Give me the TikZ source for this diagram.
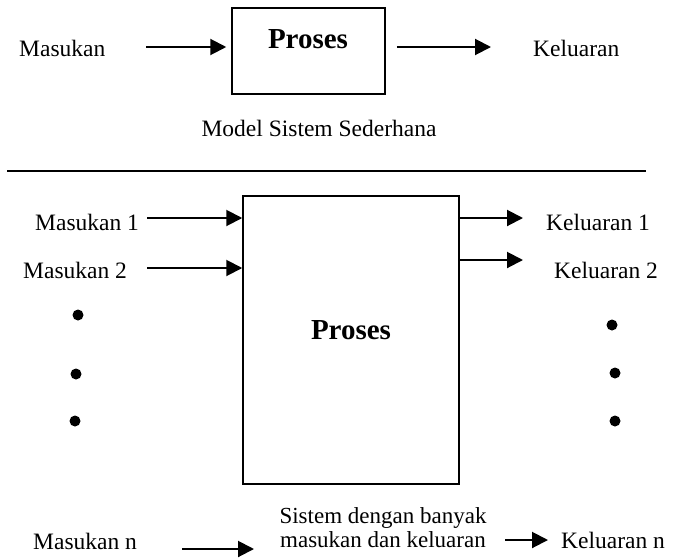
\documentclass[tikz,border=0pt]{standalone}
\usepackage{fontspec}
\setmainfont{Liberation Serif}
\usetikzlibrary{arrows.meta}
\begin{document}
\begin{tikzpicture}[x=1pt,y=-1pt,
  txt/.style={inner sep=0pt, font=\fontsize{23.5}{28}\selectfont},
  small/.style={inner sep=0pt, align=center, font=\fontsize{23}{24}\selectfont},
  title/.style={inner sep=0pt, font=\fontsize{29}{34}\selectfont\bfseries},
  procbox/.style={draw, line width=1.5pt, inner sep=0pt},
  flow/.style={line width=2pt, -{Triangle[length=16pt,width=16pt]}},
  dot/.style={circle, fill, inner sep=0pt, minimum width=10pt, minimum height=11pt}]
\useasboundingbox (0,0) rectangle (692,557);

% simple model
\node[procbox, minimum width=153pt, minimum height=86pt] (p1) at (308.5,51) {};
\node[title] (p1t) at (308,39) {Proses};
\node[txt, anchor=west] (in) at (19,48) {Masukan};
\node[txt, anchor=west] (out) at (533,48) {Keluaran};
\coordinate (a1s) at (146,47);
\coordinate (a2e) at (491,47);
\draw[flow] (a1s) -- ([xshift=-5pt]a1s -| p1.west);
\draw[flow] ([xshift=11pt]a2e -| p1.east) -- (a2e);
\node[txt] (cap1) at (319,128) {Model Sistem Sederhana};

% separator
\coordinate (s1) at (7,171);
\coordinate (s2) at (646,171);
\draw[line width=1.6pt] (s1) -- (s2);

% system with many inputs and outputs
\node[procbox, minimum width=216pt, minimum height=288pt] (p2) at (351,340) {};
\node[title] (p2t) at (351,330) {Proses};

\node[txt, anchor=west] (m1) at (35,222) {Masukan 1};
\node[txt, anchor=west] (m2) at (23,270) {Masukan 2};
\coordinate (i1) at (147,218);
\coordinate (i2) at (147,268);
\draw[flow] (i1) -- (i1 -| p2.west);
\draw[flow] (i2) -- (i2 -| p2.west);

\node[txt, anchor=west] (k1) at (546,222) {Keluaran 1};
\node[txt, anchor=west] (k2) at (554,270) {Keluaran 2};
\coordinate (o1) at (523,218);
\coordinate (o2) at (523,260);
\draw[flow] (o1 -| p2.east) -- (o1);
\draw[flow] (o2 -| p2.east) -- (o2);

\node[dot] (dl1) at (78,315) {};
\node[dot] (dl2) at (76,374) {};
\node[dot] (dl3) at (75,421) {};
\node[dot] (dr1) at (612,325) {};
\node[dot] (dr2) at (615,373) {};
\node[dot] (dr3) at (615,421) {};

\node[txt, anchor=west] (mn) at (33,541) {Masukan n};
\coordinate (ns) at (182,549);
\coordinate (ne) at (254,549);
\draw[flow] (ns) -- (ne);
\node[small] (cap2) at (383,528) {Sistem dengan banyak\\masukan dan keluaran};
\coordinate (ks) at (505,540);
\coordinate (ke) at (548,540);
\draw[flow] (ks) -- (ke);
\node[txt, anchor=west] (kn) at (561,540) {Keluaran n};
\end{tikzpicture}
\end{document}
